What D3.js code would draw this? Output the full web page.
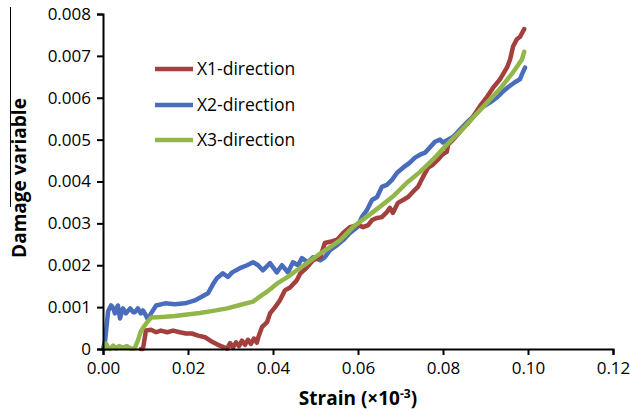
<!DOCTYPE html>
<html lang="en">
<head>
<meta charset="utf-8">
<title>Damage variable vs strain</title>
<script src="https://cdn.jsdelivr.net/npm/d3@7"></script>
<style>
  body { margin: 0; background: #fff; }
  text { font-family: "Open Sans", "Liberation Sans", sans-serif; fill: #000; }
</style>
</head>
<body>
<div id="chart"></div>
<script>
// values: [strain, damage]
var x1Points = [
  [0.0089, 0], [0.0094, 0], [0.0101, 0.00044], [0.0113, 0.00046], [0.0125, 0.0004],
  [0.0136, 0.00044], [0.0151, 0.0004], [0.0165, 0.00044], [0.0181, 0.0004], [0.0195, 0.00037],
  [0.0209, 0.00037], [0.0224, 0.00032], [0.024, 0.00028], [0.0259, 0.00016], [0.0275, 0.00008],
  [0.0292, 0.00001], [0.0299, 0.00014], [0.0306, 0.00004], [0.0313, 0.00016], [0.032, 0.00007],
  [0.0327, 0.0002], [0.0334, 0.0001], [0.0341, 0.00022], [0.0348, 0.00012], [0.0355, 0.00025],
  [0.0362, 0.00015], [0.0366, 0.0003], [0.0374, 0.00052], [0.0386, 0.00064], [0.0393, 0.00085],
  [0.0405, 0.001], [0.0416, 0.00116], [0.0428, 0.0014], [0.044, 0.00147], [0.0456, 0.00164],
  [0.0464, 0.0018], [0.048, 0.00195], [0.0494, 0.00212], [0.0511, 0.00219], [0.0522, 0.00253],
  [0.0534, 0.00256], [0.0551, 0.00261], [0.0565, 0.00277], [0.0581, 0.00291], [0.06, 0.00296],
  [0.0612, 0.00291], [0.0624, 0.00296], [0.0633, 0.00308], [0.0645, 0.00313], [0.0656, 0.00315],
  [0.0668, 0.00327], [0.0675, 0.00337], [0.0682, 0.00325], [0.0694, 0.00349], [0.0706, 0.00356],
  [0.0718, 0.00363], [0.0729, 0.00375], [0.0741, 0.00387], [0.0753, 0.00411], [0.0765, 0.00433],
  [0.0776, 0.0044], [0.0788, 0.00452], [0.0798, 0.00464], [0.0809, 0.00471], [0.0812, 0.00488],
  [0.0824, 0.005], [0.084, 0.00519], [0.0856, 0.00536], [0.0871, 0.00555], [0.0887, 0.0058],
  [0.0904, 0.00603], [0.0918, 0.00624], [0.0934, 0.00644], [0.0951, 0.00673], [0.0958, 0.00692],
  [0.0965, 0.00723], [0.0974, 0.0074], [0.0981, 0.00745], [0.0991, 0.00764]
];
var x2Points = [
  [0.0, 0], [0.0005, 0.0002], [0.0012, 0.0009], [0.0019, 0.00104], [0.0024, 0.00098],
  [0.0028, 0.00085], [0.0035, 0.00104], [0.004, 0.00073], [0.0047, 0.00097], [0.0054, 0.00085],
  [0.0064, 0.00097], [0.0071, 0.00088], [0.0075, 0.00088], [0.0082, 0.00097], [0.0089, 0.00085],
  [0.0094, 0.00092], [0.0101, 0.0008], [0.0106, 0.0007], [0.0113, 0.00085], [0.0125, 0.00104],
  [0.0146, 0.00109], [0.0169, 0.00107], [0.0193, 0.00109], [0.0216, 0.00116], [0.0231, 0.00124],
  [0.0247, 0.00133], [0.0259, 0.00155], [0.0268, 0.00169], [0.0282, 0.00181], [0.0294, 0.00172],
  [0.0304, 0.00183], [0.0322, 0.00193], [0.0339, 0.002], [0.0353, 0.00207], [0.0365, 0.002],
  [0.0376, 0.00188], [0.0393, 0.00205], [0.0409, 0.00183], [0.0421, 0.002], [0.0435, 0.00183],
  [0.0447, 0.00207], [0.0459, 0.002], [0.0468, 0.00217], [0.0482, 0.00207], [0.0494, 0.00219],
  [0.0511, 0.00212], [0.0522, 0.00219], [0.0534, 0.00236], [0.0551, 0.00248], [0.0565, 0.0026],
  [0.0581, 0.00277], [0.0598, 0.00291], [0.0609, 0.00315], [0.0621, 0.00332], [0.0633, 0.00356],
  [0.0645, 0.00363], [0.0656, 0.00387], [0.0668, 0.00392], [0.068, 0.00404], [0.0692, 0.00421],
  [0.0706, 0.00433], [0.0722, 0.00445], [0.0734, 0.00457], [0.0746, 0.00464], [0.0758, 0.00469],
  [0.0769, 0.00481], [0.0781, 0.00495], [0.0793, 0.005], [0.08, 0.00493], [0.0812, 0.005],
  [0.0824, 0.00507], [0.084, 0.00524], [0.0856, 0.00541], [0.0871, 0.00555], [0.0892, 0.00577],
  [0.0911, 0.00589], [0.0927, 0.00601], [0.0939, 0.00613], [0.0953, 0.00625], [0.0969, 0.00637],
  [0.0981, 0.00644], [0.0988, 0.00661], [0.0993, 0.00672]
];
var x3Points = [
  [0.0005, 0], [0.0007, 0.00013], [0.0012, 0.00002], [0.0016, 0], [0.0024, 0.00008],
  [0.0031, 0.00001], [0.0038, 0.00007], [0.0047, 0.00003], [0.0056, 0.00007], [0.0066, 0.00001],
  [0.0075, 0.00002], [0.0082, 0.0002], [0.0089, 0.00042], [0.0096, 0.00053], [0.0104, 0.00064],
  [0.0113, 0.00075], [0.0127, 0.00076], [0.0146, 0.00077], [0.0169, 0.00079], [0.0193, 0.00082],
  [0.0228, 0.00086], [0.0259, 0.00091], [0.0292, 0.00097], [0.0322, 0.00105], [0.0353, 0.00113],
  [0.0369, 0.00125], [0.0386, 0.00137], [0.0409, 0.00156], [0.0433, 0.00171], [0.0456, 0.00188],
  [0.048, 0.00205], [0.0511, 0.00228], [0.0534, 0.00243], [0.0558, 0.0026], [0.0588, 0.00291],
  [0.0621, 0.00316], [0.0652, 0.0034], [0.0682, 0.00364], [0.0715, 0.00397], [0.0746, 0.00423],
  [0.0776, 0.00452], [0.0809, 0.00488], [0.084, 0.00519], [0.0871, 0.00553], [0.0904, 0.00589],
  [0.0934, 0.00621], [0.0965, 0.00661], [0.0986, 0.00692], [0.0991, 0.0071]
];

var seriesNames = ["X1-direction", "X2-direction", "X3-direction"];
var seriesColors = ["#a33f3c", "#4a6cbd", "#93b64b"];
var xTicks = [0, 0.02, 0.04, 0.06, 0.08, 0.10, 0.12];
var yTicks = [0, 0.001, 0.002, 0.003, 0.004, 0.005, 0.006, 0.007, 0.008];

var w = 630;
var h = 415;
var margin = {top: 14, right: 17, bottom: 66, left: 103};

var svg = d3.select("#chart")
  .append("svg")
  .attr("width", w)
  .attr("height", h);

var x = d3.scaleLinear().domain([0, 0.12]).range([margin.left, w - margin.right]);
var y = d3.scaleLinear().domain([0, 0.008]).range([h - margin.bottom, margin.top]);

// curves
var line = d3.line()
  .x(function(d) { return x(d[0]); })
  .y(function(d) { return y(d[1]); });

var allSeries = [x1Points, x2Points, x3Points];
// draw order: blue, red, green on top
[1, 0, 2].forEach(function(i) {
  svg.append("path")
    .datum(allSeries[i])
    .attr("fill", "none")
    .attr("stroke", seriesColors[i])
    .attr("stroke-width", 4.5)
    .attr("stroke-linejoin", "round")
    .attr("stroke-linecap", "round")
    .attr("d", line);
});

// axes
var xAxis = svg.append("g")
  .attr("transform", "translate(0," + y(0) + ")")
  .call(d3.axisBottom(x).tickValues(xTicks).tickFormat(d3.format(".2f")).tickSizeOuter(0).tickSize(6).tickPadding(7));

var yAxis = svg.append("g")
  .attr("transform", "translate(" + x(0) + ",0)")
  .call(d3.axisLeft(y).tickValues(yTicks).tickFormat(function(d) { return d === 0 ? "0" : d3.format(".3f")(d); }).tickSizeOuter(0).tickSize(6).tickPadding(6));

[xAxis, yAxis].forEach(function(g) {
  g.select(".domain").attr("stroke", "#000").attr("stroke-width", 2);
  g.selectAll(".tick line").attr("stroke", "#000").attr("stroke-width", 2);
  g.selectAll(".tick text")
    .attr("font-family", "'Open Sans', sans-serif")
    .attr("font-size", 17)
    .attr("fill", "#000");
});

// axis titles
svg.append("text")
  .attr("transform", "translate(26," + 178 + ") rotate(-90)")
  .attr("text-anchor", "middle")
  .attr("font-size", 19)
  .attr("font-weight", "bold")
  .text("Damage variable");

svg.append("line")
  .attr("x1", 10.5).attr("x2", 10.5)
  .attr("y1", 7).attr("y2", 207)
  .attr("stroke", "#000")
  .attr("stroke-width", 1);

var xTitle = svg.append("text")
  .attr("x", x(0.06))
  .attr("y", 405)
  .attr("text-anchor", "middle")
  .attr("font-size", 19)
  .attr("font-weight", "bold");
xTitle.append("tspan").text("Strain (\u00d710");
xTitle.append("tspan").attr("font-size", 12).attr("dy", -7).text("-3");
xTitle.append("tspan").attr("dy", 7).text(")");

// legend
var legend = svg.append("g");
var legendY = [69, 105, 140];
seriesNames.forEach(function(name, i) {
  legend.append("line")
    .attr("x1", 155).attr("x2", 193)
    .attr("y1", legendY[i]).attr("y2", legendY[i])
    .attr("stroke", seriesColors[i])
    .attr("stroke-width", 4.5);
  legend.append("text")
    .attr("x", 197)
    .attr("y", legendY[i] + 6)
    .attr("font-size", 17.5)
    .text(name);
});
</script>
</body>
</html>
